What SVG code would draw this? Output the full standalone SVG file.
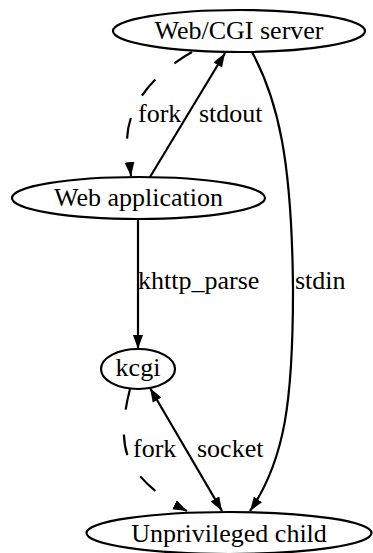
<svg xmlns="http://www.w3.org/2000/svg" width="373" height="553" viewBox="0 0 373 553">
  <style>
    .node ellipse { fill: none; stroke: #000; stroke-width: 2.2; }
    .node text { font-family: "Liberation Serif", "Times New Roman", serif; font-size: 26px; text-anchor: middle; fill: #000; }
    .edge path, .edge line { fill: none; stroke: #000; stroke-width: 2.2; }
    .edge .dash { stroke-dasharray: 21 25; }
    .label { font-family: "Liberation Serif", "Times New Roman", serif; font-size: 26px; fill: #000; }
  </style>
  <defs>
    <marker id="arrow" markerUnits="userSpaceOnUse" markerWidth="15" markerHeight="11" refX="14" refY="5" orient="auto">
      <path d="M0,0 L14,5 L0,10 z" fill="#000"/>
    </marker>
    <marker id="arrow-start" markerUnits="userSpaceOnUse" markerWidth="15" markerHeight="11" refX="0" refY="5" orient="auto">
      <path d="M14,0 L0,5 L14,10 z" fill="#000"/>
    </marker>
  </defs>

  <g id="edges" class="edge">
    <!-- server forks the web application -->
    <path class="dash" d="M192,52 C160,70 128,100 127,140 L131,176" marker-end="url(#arrow)"/>
    <!-- application writes to server stdout -->
    <line x1="150" y1="177" x2="225" y2="53" marker-end="url(#arrow)"/>
    <!-- server stdin reaches the child -->
    <path d="M252,52 C278,100 292,160 293,290 C293,400 285,460 250,511" marker-end="url(#arrow)"/>
    <!-- application calls khttp_parse -->
    <line x1="138" y1="220" x2="138" y2="349" marker-end="url(#arrow)"/>
    <!-- kcgi forks the child -->
    <path class="dash" d="M130,389 C122,420 120,450 135,470 C148,487 165,500 187,511" marker-end="url(#arrow)"/>
    <!-- socket between kcgi and child -->
    <line x1="150" y1="388" x2="222" y2="511" marker-start="url(#arrow-start)" marker-end="url(#arrow)"/>
  </g>

  <g id="server" class="node">
    <ellipse cx="239" cy="31" rx="126" ry="21"/>
    <text x="239" y="39">Web/CGI server</text>
  </g>
  <g id="webapp" class="node">
    <ellipse cx="138.5" cy="198" rx="126.5" ry="21"/>
    <text x="138.5" y="206">Web application</text>
  </g>
  <g id="kcgi" class="node">
    <ellipse cx="138" cy="369" rx="37" ry="20"/>
    <text x="138" y="376">kcgi</text>
  </g>
  <g id="child" class="node">
    <ellipse cx="229" cy="533" rx="142.5" ry="21"/>
    <text x="229" y="542">Unprivileged child</text>
  </g>

  <g id="edge-labels">
    <text class="label" x="138" y="122">fork</text>
    <text class="label" x="199" y="122">stdout</text>
    <text class="label" x="138" y="289">khttp_parse</text>
    <text class="label" x="295" y="289">stdin</text>
    <text class="label" x="133" y="457">fork</text>
    <text class="label" x="197" y="457">socket</text>
  </g>
</svg>
